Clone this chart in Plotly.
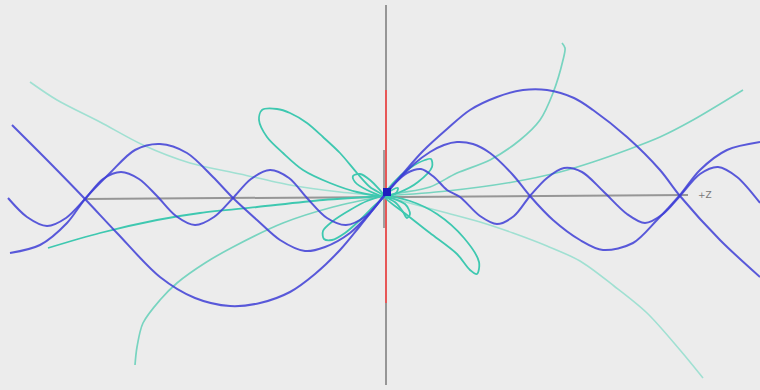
import plotly.graph_objects as go

# Projected coordinates of the curves (horizontal z, vertical y), origin at the centre
wave_long_z = [-372, -334, -299, -267, -224, -189, -154, -124, -94, -69, -44, -24, 0, 16, 39, 63, 86, 113, 139, 163, 190, 209, 243, 276, 296, 336, 376]
wave_long_y = [71, 33, -3, -37, -81, -102, -110, -107, -96, -78, -54, -30, 0, 19, 45, 67, 86, 99, 106, 106, 98, 86, 59, 26, 0, -44, -81]

wave_mid_z = [-374, -344, -317, -299, -274, -249, -224, -197, -171, -151, -127, -104, -79, -59, -34, -14, 0, 15, 30, 46, 60, 73, 89, 106, 129, 146, 169, 196, 219, 249, 273, 296, 316, 343, 376]
wave_mid_y = [-57, -49, -27, -3, 23, 46, 52, 43, 19, -2, -24, -44, -55, -51, -37, -17, 0, 17, 32, 44, 51, 54, 52, 43, 21, 0, -24, -44, -54, -47, -24, 1, 26, 46, 54]

wave_short_z = [-376, -357, -337, -318, -299, -281, -263, -245, -227, -208, -189, -170, -151, -133, -114, -95, -77, -57, -38, -18, 0,
                9, 23, 37, 50, 63, 76, 96, 113, 130, 146, 163, 180, 198, 219, 243, 261, 279, 296, 316, 334, 353, 376]
wave_short_y = [-2, -21, -30, -22, -3, 17, 24, 17, 0, -20, -29, -21, -2, 17, 26, 18, -2, -22, -29, -20, 0,
                11, 23, 27, 19, 6, -1, -20, -28, -20, 0, 18, 28, 24, 5, -18, -27, -18, 0, 22, 29, 19, -7]

# long field lines (cyan)
line_l1_z = [0, -44, -94, -144, -194, -241, -284, -327, -354]
line_l1_y = [0, 4, 11, 22, 33, 51, 74, 96, 114]
line_l2_z = [0, -61, -127, -184, -227, -284, -336]
line_l2_y = [0, -4, -11, -17, -24, -37, -52]
line_l3_z = [0, -51, -101, -151, -179, -207, -224, -241, -247, -249]
line_l3_y = [0, -11, -27, -51, -67, -87, -104, -127, -151, -169]
line_r1_z = [0, 63, 129, 176, 209, 243, 276, 309, 359]
line_r1_y = [0, 5, 14, 24, 34, 46, 59, 76, 106]
line_r2_z = [0, 29, 63, 96, 129, 163, 196, 230, 263, 296, 319]
line_r2_y = [0, -8, -17, -26, -37, -50, -65, -90, -117, -154, -182]
line_r3_z = [0, 16, 46, 73, 106, 136, 156, 169, 179, 181, 178]
line_r3_y = [0, 3, 9, 23, 36, 56, 76, 103, 136, 148, 153]

# closed lobes (cyan)
lobe_a_z = [0, -27, -54, -81, -101, -117, -125, -122, -107, -94, -77, -61, -44, -27, -14, 0]
lobe_a_y = [0, 4, 13, 26, 43, 59, 76, 86, 87, 83, 73, 59, 43, 23, 9, 0]
lobe_b_z = [0, -17, -29, -31, -24, -14, 0]
lobe_b_y = [0, 6, 14, 20, 22, 16, 0]
lobe_c_z = [0, -17, -34, -51, -61, -60, -52, -39, -24, -11, 0]
lobe_c_y = [0, -5, -14, -25, -35, -43, -44, -37, -24, -11, 0]
lobe_d_z = [0, 9, 26, 41, 47, 48, 34, 16, 0]
lobe_d_y = [0, 13, 28, 36, 37, 29, 14, 4, 0]
lobe_e_z = [0, 8, 14, 12, 0]
lobe_e_y = [0, 6, 8, 3, 0]
lobe_f_z = [0, 12, 19, 23, 26, 21, 0]
lobe_f_y = [0, -7, -16, -22, -18, -8, 0]
lobe_g_z = [0, 23, 46, 73, 86, 93, 95, 80, 53, 26, 0]
lobe_g_y = [0, -19, -37, -58, -74, -78, -66, -42, -18, -5, 0]

# axes
axis_z_z = [-299, 304]
axis_z_y = [-3, 1]
axis_v_z = [2, 2]
axis_v_y = [191, -189]
axis_red_y = [106, -107]
axis_short_y = [46, -32]
origin_z = [3]
origin_y = [4]
label_text = "+Z"

BLUE = "rgba(62,62,214,0.85)"
CYAN = "rgb(62,200,176)"
CYAN_SOFT = "rgb(120,212,192)"
CYAN_LIGHT = "rgb(160,224,210)"

fig = go.Figure()

def add(z, y, color, width=1.8, shape="spline"):
    fig.add_trace(go.Scatter(x=z, y=y, mode="lines",
                             line=dict(color=color, width=width, shape=shape, smoothing=0.9),
                             hoverinfo="skip"))

# axes first
add(axis_z_z, axis_z_y, "rgb(150,150,150)", 2, "linear")
add(axis_v_z, axis_v_y, "rgb(150,150,150)", 2, "linear")
add(axis_v_z, axis_red_y, "rgba(240,80,80,0.9)", 2, "linear")
add([0, 0], axis_short_y, "rgba(140,140,140,0.8)", 2, "linear")

# long cyan lines
add(line_l1_z, line_l1_y, CYAN_LIGHT, 1.6)
add(line_l2_z, line_l2_y, CYAN, 1.8)
add(line_l3_z, line_l3_y, CYAN_SOFT, 1.7)
add(line_r1_z, line_r1_y, CYAN_SOFT, 1.6)
add(line_r2_z, line_r2_y, CYAN_LIGHT, 1.6)
add(line_r3_z, line_r3_y, CYAN_SOFT, 1.7)

for z, y in [(lobe_a_z, lobe_a_y), (lobe_b_z, lobe_b_y), (lobe_c_z, lobe_c_y), (lobe_d_z, lobe_d_y),
             (lobe_e_z, lobe_e_y), (lobe_f_z, lobe_f_y), (lobe_g_z, lobe_g_y)]:
    add(z, y, CYAN, 1.8)

# blue waves
add(wave_long_z, wave_long_y, BLUE, 2)
add(wave_mid_z, wave_mid_y, BLUE, 2)
add(wave_short_z, wave_short_y, BLUE, 2)

fig.add_trace(go.Scatter(x=origin_z, y=origin_y, mode="markers",
                         marker=dict(symbol="square", size=8, color="rgb(30,30,190)"),
                         hoverinfo="skip"))

fig.add_annotation(x=axis_z_z[1], y=axis_z_y[1], text=label_text, showarrow=False,
                   xanchor="left", xshift=8, font=dict(size=9, color="rgb(120,120,120)", family="DejaVu Sans"))

fig.update_layout(width=760, height=390, margin=dict(l=0, r=0, t=0, b=0),
                  paper_bgcolor="rgb(236,236,236)", plot_bgcolor="rgb(236,236,236)",
                  showlegend=False,
                  xaxis=dict(range=[-384, 376], visible=False, fixedrange=True),
                  yaxis=dict(range=[-194, 196], visible=False, fixedrange=True))

fig.write_html("out.html", config={"displayModeBar": False})

# remove the default page margin so the figure fills the window
with open("out.html", "r", encoding="utf-8") as f:
    html = f.read()
html = html.replace("<head>", "<head><style>html,body{margin:0;padding:0;background:rgb(236,236,236);overflow:hidden;}</style>", 1)
with open("out.html", "w", encoding="utf-8") as f:
    f.write(html)
